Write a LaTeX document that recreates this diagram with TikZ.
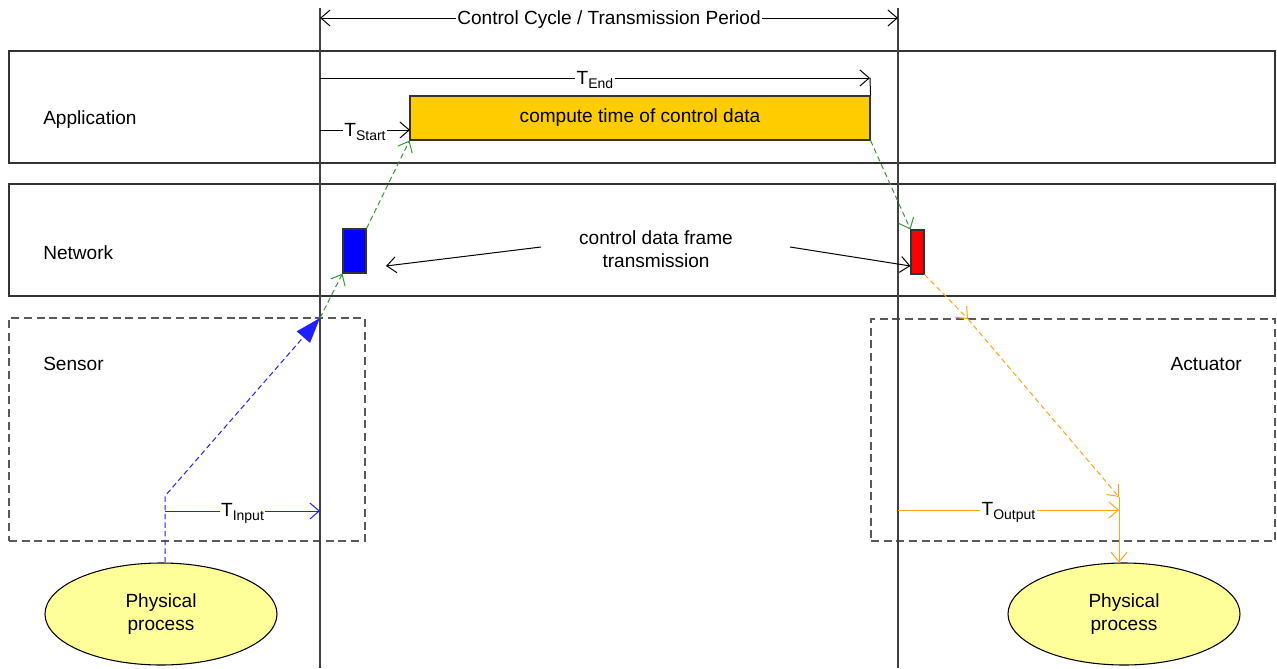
\documentclass[tikz,border=0pt]{standalone}
\usepackage{fontspec}
\setmainfont{Liberation Sans}
\usetikzlibrary{arrows.meta,shapes.geometric}
\newcommand{\Tsb}[1]{T\raisebox{-0.4ex}{\fontsize{10.5}{12}\selectfont #1}}
\definecolor{gold}{HTML}{FFCC00}
\definecolor{paleyellow}{HTML}{FFFF99}
\definecolor{dkgreen}{HTML}{339933}
\definecolor{orng}{HTML}{FFA31A}
\definecolor{lanegray}{HTML}{333333}
\definecolor{bluel}{HTML}{1F1FFF}
\begin{document}
\begin{tikzpicture}[x=0.75pt,y=-0.75pt,
 font=\fontsize{14.3}{17}\selectfont,
 lane/.style={draw=lanegray,line width=0.8pt,minimum width=949.5pt,minimum height=84pt,inner sep=0pt},
 zone/.style={draw=black!65,dash pattern=on 6pt off 3.5pt,line width=0.8pt,inner sep=0pt},
 vtip/.style={-{Straight Barb[length=7pt,width=12pt]}},
 bigtip/.style={-{Triangle[length=19pt,width=13pt]}},
 flow/.style={dash pattern=on 4pt off 2.5pt,line width=0.75pt},
 lbl/.style={fill=white,inner sep=1pt,text=black,yshift=-1.5pt},
 side/.style={inner sep=0pt},
 proc/.style={ellipse,draw=black,fill=paleyellow,line width=0.8pt,minimum width=174pt,minimum height=76.5pt,align=center,inner sep=0pt},
 frm/.style={draw=black!80,line width=0.8pt,minimum height=33pt,inner sep=0pt},
 guide/.style={draw=black!75,line width=0.8pt}]
\useasboundingbox (0,0) rectangle (1277,668);

% lanes and zones
\node[lane] (app) at (642,107) {};
\node[lane] (net) at (642,240) {};
\node[zone,minimum width=267pt,minimum height=167.25pt] (sens) at (187,429.5) {};
\node[zone,minimum width=303pt,minimum height=166.5pt] (act) at (1073,430) {};

\node[side,anchor=west] (applbl) at (43,120) {Application};
\node[side,anchor=west] (netlbl) at (43,253) {Network};
\node[side,anchor=west] (senslbl) at (43,364) {Sensor};
\node[side,anchor=east] (actlbl) at (1242,364) {Actuator};

% cycle boundaries
\coordinate (c1t) at (320,8);
\coordinate (c1b) at (320,668);
\coordinate (c2t) at (898,8);
\coordinate (c2b) at (898,668);
\draw[guide] (c1t) -- (c1b);
\draw[guide] (c2t) -- (c2b);

\coordinate (cyL) at (320,18);
\coordinate (cyR) at (898,18);
\draw[black,line width=0.75pt,{Straight Barb[length=7pt,width=12pt]}-{Straight Barb[length=7pt,width=12pt]}]
  (cyL) -- node[lbl] (cyc) {Control Cycle / Transmission Period} (cyR);

% compute box and frames
\node[draw=black!80,fill=gold,line width=0.8pt,minimum width=345pt,minimum height=33pt,inner sep=0pt] (comp) at (640,118) {\raisebox{-1pt}{compute time of control data}};
\node[frm,fill=blue,minimum width=17.25pt] (bfr) at (354.5,251) {};
\node[frm,fill=red,minimum width=9.75pt] (rfr) at (917.5,252) {};

% T_End and T_Start
\coordinate (teS) at (320,78);
\coordinate (teE) at (870,78);
\draw[black,line width=0.75pt,vtip] (teS) -- node[lbl] (tend) {\Tsb{End}} (teE);
\draw[black,line width=0.75pt] (teE) -- (comp.north east);
\coordinate (tsS) at (320,130);
\coordinate (tsE) at (410,130);
\draw[black,line width=0.75pt,vtip] (tsS) -- node[lbl] (tstart) {\Tsb{Start}} (tsE);

% control data frame transmission
\node[align=center] (cdf) at (656,249) {control data frame\\transmission};
\coordinate (cdfL) at (541,247);
\coordinate (cdfLt) at (386,266);
\coordinate (cdfR) at (790,247);
\draw[black,line width=0.75pt,vtip] (cdfL) -- (cdfLt);
\draw[black,line width=0.75pt,vtip] (cdfR) -- (rfr.west |- cdfLt);

% sensor side
\node[proc] (lp) at (161,614) {Physical\\process};
\coordinate (sbend) at (165,496);
\coordinate (sout) at (320,318);
\draw[bluel,flow,bigtip] (sbend |- lp.north) -- (sbend) -- (sout);
\coordinate (tiS) at (165,511);
\draw[bluel,line width=0.75pt,vtip] (tiS) -- node[lbl] (tinput) {\Tsb{Input}} (sout |- tiS);

% network / application flows
\draw[dkgreen,flow,vtip] (sout) -- (bfr.south west);
\draw[dkgreen,flow,vtip] (bfr.north east) -- (comp.south west);
\draw[dkgreen,flow,vtip] (comp.south east) -- (rfr.north west);

% actuator side
\node[proc] (rp) at (1124,614) {Physical\\process};
\coordinate (omid) at (968,319);
\coordinate (oend) at (1119,497);
\draw[orng,flow,vtip] (rfr.south east) -- (omid);
\draw[orng,flow,vtip] (omid) -- (oend);
\coordinate (toS) at (898,510);
\draw[orng,line width=0.75pt,vtip] (toS) -- node[lbl] (toutput) {\Tsb{Output}} (oend |- toS);
\draw[orng,line width=0.75pt,vtip] (oend) -- (oend |- rp.north);
\end{tikzpicture}
\end{document}
